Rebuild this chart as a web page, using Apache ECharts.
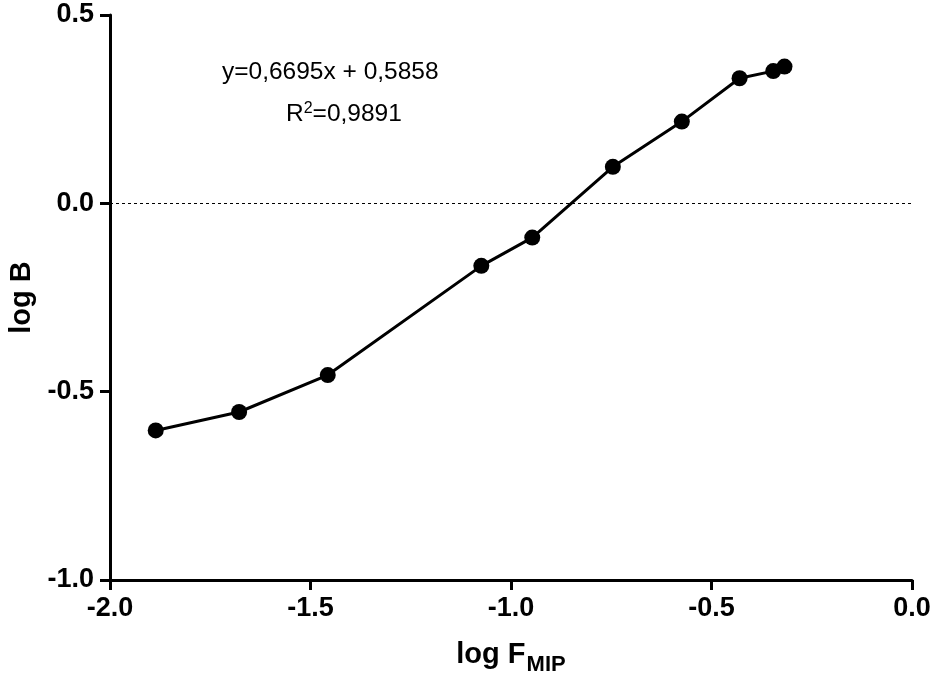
<!DOCTYPE html>
<html>
<head>
<meta charset="utf-8">
<script src="https://cdn.jsdelivr.net/npm/echarts@6/dist/echarts.min.js"></script>
<style>
  html, body { margin: 0; padding: 0; background: #fff; }
  #chart { width: 938px; height: 679px; }
</style>
</head>
<body>
<div id="chart"></div>
<script>
// log F_MIP (x) and log B (y) measurements
const logF = [-1.886, -1.678, -1.457, -1.074, -0.947, -0.746, -0.574, -0.430, -0.346, -0.318];
const logB = [-0.603, -0.554, -0.456, -0.166, -0.091, 0.097, 0.217, 0.332, 0.351, 0.363];
const xTicks = [-2.0, -1.5, -1.0, -0.5, 0.0];
const yTicks = [-1.0, -0.5, 0.0, 0.5];
const fitText = 'y=0,6695x + 0,5858';
const r2Text = '0,9891';

const font = 'Liberation Sans, Arial, sans-serif';
const chart = echarts.init(document.getElementById('chart'));

const axisCommon = {
  type: 'value',
  splitLine: { show: false },
  axisLine: { show: true, onZero: false, lineStyle: { color: '#000', width: 3 } },
  axisTick: { show: true, inside: false, length: 10, lineStyle: { color: '#000', width: 3 } },
  axisLabel: {
    color: '#000', fontFamily: font, fontWeight: 'bold', fontSize: 27,
    formatter: v => v.toFixed(1)
  }
};

chart.setOption({
  animation: false,
  backgroundColor: '#fff',
  grid: { left: 110, right: 26, top: 15, bottom: 99, containLabel: false, outerBoundsMode: 'none' },
  xAxis: Object.assign({}, axisCommon, {
    min: xTicks[0], max: xTicks[xTicks.length - 1], interval: 0.5,
    axisLabel: Object.assign({}, axisCommon.axisLabel, { margin: 15 }),
    name: '{a|log F}{b|MIP}',
    nameLocation: 'middle',
    nameGap: 60,
    nameTextStyle: {
      rich: {
        a: { fontFamily: font, fontWeight: 'bold', fontSize: 29, color: '#000', verticalAlign: 'bottom' },
        b: { fontFamily: font, fontWeight: 'bold', fontSize: 22, color: '#000', verticalAlign: 'bottom', padding: [0, 0, -7, 1] }
      }
    }
  }),
  yAxis: Object.assign({}, axisCommon, {
    min: yTicks[0], max: yTicks[yTicks.length - 1], interval: 0.5,
    axisLabel: Object.assign({}, axisCommon.axisLabel, { margin: 16 }),
    name: 'log B',
    nameLocation: 'middle',
    nameGap: 74,
    nameRotate: 90,
    nameTextStyle: { fontFamily: font, fontWeight: 'bold', fontSize: 29, color: '#000' }
  }),
  series: [{
    type: 'line',
    data: logF.map((x, i) => [x, logB[i]]),
    symbol: 'circle',
    symbolSize: 16,
    itemStyle: { color: '#000' },
    lineStyle: { color: '#000', width: 3 },
    markLine: {
      silent: true,
      symbol: 'none',
      label: { show: false },
      lineStyle: { color: '#000', width: 1.2, type: [3, 3] },
      data: [{ yAxis: 0 }]
    },
    z: 3
  }],
  graphic: [
    {
      type: 'text', left: 222, top: 60,
      style: { text: fitText, font: '24.5px ' + font, fill: '#000' }
    },
    {
      type: 'text', left: 286, top: 101,
      style: {
        text: '{a|R}{s|2}{a|=' + r2Text + '}',
        rich: {
          a: { fontFamily: font, fontSize: 24.5, color: '#000', verticalAlign: 'bottom' },
          s: { fontFamily: font, fontSize: 16, color: '#000', verticalAlign: 'bottom', padding: [0, 0, 10, 0] }
        }
      }
    }
  ]
});
</script>
</body>
</html>
